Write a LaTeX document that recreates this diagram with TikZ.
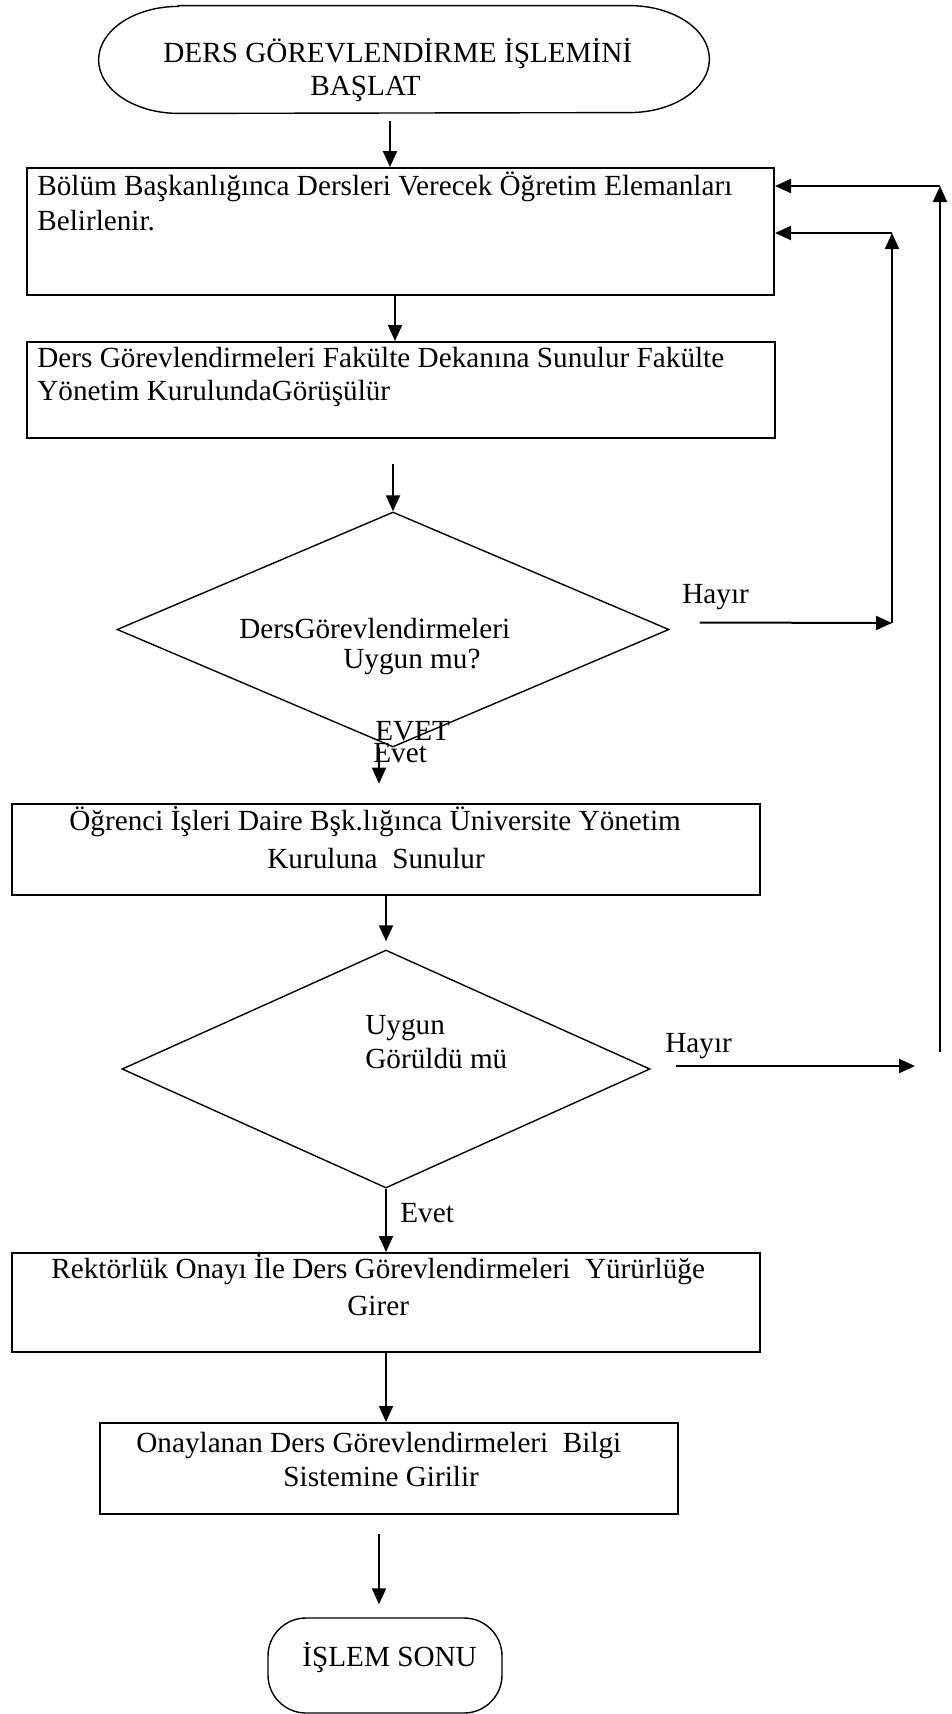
\documentclass[tikz,border=0pt]{standalone}
\usepackage{fontspec}
\setmainfont{Liberation Serif}
\usetikzlibrary{arrows.meta,shapes.geometric,calc}

\begin{document}
\begin{tikzpicture}[x=0.5pt,y=-0.5pt,
  box/.style={draw,line width=1pt,rectangle,inner sep=0pt},
  decision/.style={draw,line width=0.7pt,diamond,inner sep=0pt},
  frame/.style={rectangle,inner sep=0pt},
  txt/.style={inner sep=0pt,anchor=base west,font=\fontsize{14.6pt}{17pt}\selectfont},
  arr/.style={line width=1pt,-{Triangle[length=8pt,width=7pt]}},
  term/.style={line width=0.7pt}
]
\useasboundingbox[fill=white] (0,0) rectangle (952,1714);

% start terminator
\node[frame,minimum width=305pt,minimum height=53.5pt] (s) at (404,59.5) {};
\draw[term] ($(s.north west)+(40pt,0)$) -- ($(s.north east)+(-40pt,0)$)
  arc[start angle=90,end angle=-90,x radius=40pt,y radius=26.75pt]
  -- ($(s.south west)+(40pt,0)$)
  arc[start angle=270,end angle=90,x radius=40pt,y radius=26.75pt] -- cycle;
\node[txt] (s1) at (163,62) {DERS GÖREVLENDİRME İŞLEMİNİ};
\node[txt] (s2) at (310,95) {BAŞLAT};

% process boxes
\node[box,minimum width=373.5pt,minimum height=63.5pt] (b1) at (400.5,231.5) {};
\node[txt] (b1a) at (37,195) {Bölüm Başkanlığınca Dersleri Verecek Öğretim Elemanları};
\node[txt] (b1b) at (37,230) {Belirlenir.};

\node[box,minimum width=374pt,minimum height=48pt] (b2) at (401,390) {};
\node[txt] (b2a) at (37,367) {Ders Görevlendirmeleri Fakülte Dekanına Sunulur Fakülte};
\node[txt] (b2b) at (37,400) {Yönetim KurulundaGörüşülür};

% first decision
\node[decision,minimum width=276pt,minimum height=117.5pt] (d1) at (393,629.5) {};
\node[txt] (d1a) at (239,638) {DersGörevlendirmeleri};
\node[txt] (d1b) at (343,668) {Uygun mu?};
\node[txt] (y1a) at (375,740) {EVET};
\node[txt] (y1b) at (373,762) {Evet};
\node[txt] (n1t) at (682,603) {Hayır};

\node[box,minimum width=374pt,minimum height=45.5pt] (b3) at (386,849.5) {};
\node[txt] (b3a) at (69,830) {Öğrenci İşleri Daire Bşk.lığınca Üniversite Yönetim};
\node[txt] (b3b) at (267,868) {Kuruluna~ Sunulur};

% second decision
\node[decision,minimum width=264pt,minimum height=119pt] (d2) at (386,1069) {};
\node[txt] (d2a) at (365,1034) {Uygun};
\node[txt] (d2b) at (365,1068) {Görüldü mü};
\node[txt] (n2t) at (665,1052) {Hayır};
\node[txt] (y2) at (400,1222) {Evet};

\node[box,minimum width=374pt,minimum height=49.5pt] (b4) at (386,1302.5) {};
\node[txt] (b4a) at (51,1278) {Rektörlük Onayı İle Ders Görevlendirmeleri~ Yürürlüğe};
\node[txt] (b4b) at (347,1315) {Girer};

\node[box,minimum width=289pt,minimum height=45.5pt] (b5) at (389,1468.5) {};
\node[txt] (b5a) at (136,1452) {Onaylanan Ders Görevlendirmeleri~ Bilgi};
\node[txt] (b5b) at (283,1486) {Sistemine Girilir};

% end terminator
\node[draw,term,rectangle,rounded corners=19pt,minimum width=117pt,minimum height=47.5pt] (e) at (385,1665.5) {};
\node[txt] (et) at (302,1666) {İŞLEM SONU};

% main flow
\draw[arr] ($(s.south)+(-7pt,-4pt)$) -- ($(s.south |- b1.north)+(-7pt,0)$);
\draw[arr] ($(b1.south)+(-2.75pt,0)$) -- ($(b1.south |- b2.north)+(-2.75pt,0)$);
\draw[arr] ($(d1.north |- b2.south)+(0,-12.5pt)$) -- (d1.north);
\draw[arr] ($(d1.south)+(-7pt,0)$) -- ($(d1.south)+(-7pt,-18pt)$);
\draw[arr] (b3.south -| d2.north) -- ($(d2.north)+(0,4pt)$);
\draw[arr] (d2.south) -- (d2.south |- b4.north);
\draw[arr] (b4.south) -- (b4.south |- b5.north);
\draw[arr] ($(b5.south -| e.north)+(-3pt,-9.5pt)$) -- ($(e.north)+(-3pt,6.5pt)$);

% return loops
\coordinate (k1) at (892,623);
\coordinate (m1) at (892,233);
\draw[arr] ($(d1.east)+(15pt,3.5pt)$) -- (k1);
\draw[arr] (k1) -- (m1);
\draw[arr] (m1) -- (m1 -| b1.east);

\coordinate (k2) at (915,1066);
\coordinate (v2) at (940,1052);
\coordinate (m2) at (940,186);
\draw[arr] ($(d2.east)+(12.5pt,1.5pt)$) -- (k2);
\draw[arr] (v2) -- (m2);
\draw[arr] (m2) -- (m2 -| b1.east);
\end{tikzpicture}
\end{document}
